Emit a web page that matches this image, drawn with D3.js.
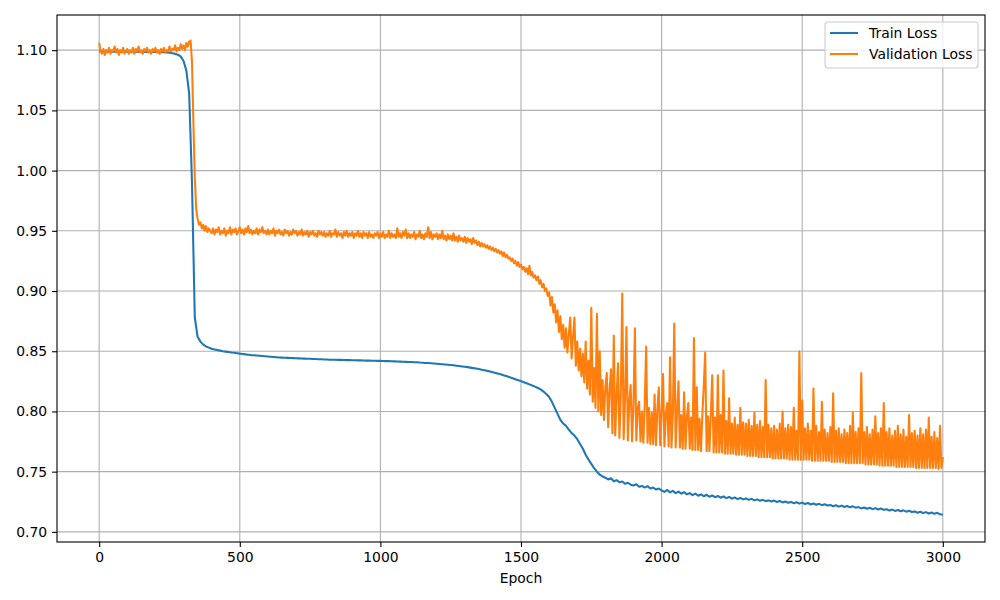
<!DOCTYPE html>
<html>
<head>
<meta charset="utf-8">
<script src="https://cdn.jsdelivr.net/npm/d3@7"></script>
<style>
  body { margin: 0; background: #fff; }
  text { font-family: "DejaVu Sans", sans-serif; }
</style>
</head>
<body>
<svg width="1000" height="600"></svg>
<script>
// train sampled every 10 epochs, validation every 5
const trainEpochs = d3.range(0, 3001, 10);
const valEpochs = d3.range(0, 3001, 5);

const trainLoss = [
  1.099, 1.099, 1.0988, 1.099, 1.0987, 1.0989, 1.0988, 1.099, 1.0987, 1.0988,
  1.0988, 1.0987, 1.0988, 1.0986, 1.0987, 1.0988, 1.0986, 1.0987, 1.0986, 1.0985,
  1.0985, 1.0984, 1.0983, 1.0982, 1.098, 1.0978, 1.0975, 1.097, 1.0962, 1.0948,
  1.091, 1.083, 1.064, 0.99, 0.878, 0.862, 0.858, 0.8555, 0.854, 0.853,
  0.852, 0.8515, 0.851, 0.8505, 0.85, 0.8497, 0.8494, 0.849, 0.8487, 0.8484,
  0.848, 0.8477, 0.8474, 0.8471, 0.8468, 0.8466, 0.8464, 0.8462, 0.846, 0.8458,
  0.8456, 0.8454, 0.8452, 0.845, 0.8448, 0.8447, 0.8446, 0.8445, 0.8444, 0.8443,
  0.8442, 0.8441, 0.844, 0.8439, 0.8438, 0.8437, 0.8436, 0.8435, 0.8434, 0.8433,
  0.8432, 0.8431, 0.843, 0.843, 0.8429, 0.8428, 0.8428, 0.8427, 0.8426, 0.8426,
  0.8425, 0.8425, 0.8424, 0.8424, 0.8423, 0.8422, 0.8422, 0.8421, 0.8421, 0.842,
  0.842, 0.8419, 0.8418, 0.8418, 0.8417, 0.8416, 0.8415, 0.8414, 0.8413, 0.8412,
  0.8411, 0.841, 0.8409, 0.8408, 0.8406, 0.8405, 0.8403, 0.8402, 0.84, 0.8398,
  0.8396, 0.8394, 0.8392, 0.839, 0.8388, 0.8386, 0.8383, 0.838, 0.8377, 0.8374,
  0.8371, 0.8368, 0.8364, 0.836, 0.8356, 0.8352, 0.8347, 0.8342, 0.8337, 0.8331,
  0.8325, 0.8319, 0.8313, 0.8306, 0.8299, 0.8292, 0.8284, 0.8276, 0.8268, 0.826,
  0.8252, 0.8243, 0.8234, 0.8225, 0.8216, 0.8206, 0.8195, 0.8183, 0.8165, 0.8145,
  0.812, 0.808, 0.803, 0.798, 0.793, 0.79, 0.788, 0.785, 0.782, 0.78,
  0.777, 0.773, 0.769, 0.764, 0.76, 0.7565, 0.753, 0.75, 0.7475, 0.746,
  0.745, 0.7435, 0.7445, 0.742, 0.743, 0.7412, 0.7418, 0.74, 0.7408, 0.7392,
  0.7385, 0.7395, 0.7375, 0.7382, 0.7368, 0.738, 0.736, 0.7368, 0.7352, 0.736,
  0.7345, 0.7332, 0.7348, 0.7328, 0.734, 0.7322, 0.7335, 0.7318, 0.733, 0.7312,
  0.7322, 0.7305, 0.7318, 0.73, 0.7312, 0.7296, 0.7308, 0.7292, 0.7302, 0.7288,
  0.7298, 0.7284, 0.7294, 0.728, 0.729, 0.7276, 0.7286, 0.7272, 0.7282, 0.727,
  0.7278, 0.7266, 0.7274, 0.7262, 0.727, 0.7258, 0.7266, 0.7255, 0.7262, 0.7252,
  0.726, 0.7248, 0.7256, 0.7245, 0.7252, 0.7242, 0.7249, 0.7238, 0.7246, 0.7235,
  0.7243, 0.7232, 0.724, 0.7228, 0.7236, 0.7225, 0.7233, 0.7222, 0.723, 0.7219,
  0.7224, 0.7213, 0.7221, 0.721, 0.7218, 0.7207, 0.7215, 0.7204, 0.7212, 0.7201,
  0.7206, 0.7195, 0.7203, 0.7192, 0.72, 0.7189, 0.7197, 0.7186, 0.7194, 0.7183,
  0.7188, 0.7177, 0.7185, 0.7174, 0.7182, 0.7171, 0.7179, 0.7168, 0.7176, 0.7165,
  0.717, 0.7159, 0.7167, 0.7156, 0.7164, 0.7153, 0.7161, 0.715, 0.7158, 0.7146,
  0.7142
];

const valLoss = [
  // 0-95
  1.106, 1.099, 1.097, 1.101, 1.096, 1.100, 1.098, 1.102, 1.097, 1.100, 1.099, 1.103, 1.098, 1.101, 1.096, 1.100, 1.098, 1.102, 1.097, 1.099,
  // 100-195
  1.101, 1.097, 1.100, 1.098, 1.102, 1.097, 1.101, 1.099, 1.103, 1.098, 1.100, 1.097, 1.101, 1.099, 1.102, 1.098, 1.100, 1.097, 1.101, 1.099,
  // 200-295
  1.102, 1.098, 1.100, 1.097, 1.101, 1.099, 1.102, 1.098, 1.100, 1.099, 1.103, 1.099, 1.101, 1.100, 1.104, 1.099, 1.102, 1.100, 1.105, 1.101,
  // 300-395
  1.104, 1.100, 1.106, 1.103, 1.107, 1.108, 1.090, 1.040, 0.995, 0.968, 0.960, 0.955, 0.957, 0.952, 0.955, 0.950, 0.954, 0.949, 0.952, 0.950,
  // 400-495
  0.948, 0.952, 0.947, 0.951, 0.949, 0.953, 0.947, 0.950, 0.948, 0.952, 0.946, 0.950, 0.948, 0.953, 0.947, 0.951, 0.949, 0.952, 0.947, 0.950,
  // 500-595
  0.953, 0.948, 0.951, 0.947, 0.952, 0.949, 0.954, 0.948, 0.951, 0.947, 0.950, 0.948, 0.952, 0.947, 0.951, 0.949, 0.953, 0.948, 0.950, 0.947,
  // 600-695
  0.951, 0.947, 0.950, 0.948, 0.952, 0.946, 0.950, 0.948, 0.951, 0.947, 0.949, 0.946, 0.951, 0.948, 0.950, 0.946, 0.949, 0.947, 0.951, 0.948,
  // 700-795
  0.950, 0.946, 0.949, 0.947, 0.951, 0.946, 0.949, 0.947, 0.950, 0.945, 0.949, 0.947, 0.950, 0.946, 0.948, 0.945, 0.950, 0.947, 0.949, 0.946,
  // 800-895
  0.949, 0.945, 0.948, 0.946, 0.950, 0.945, 0.948, 0.947, 0.951, 0.945, 0.949, 0.946, 0.948, 0.944, 0.949, 0.946, 0.950, 0.945, 0.948, 0.946,
  // 900-995
  0.949, 0.944, 0.948, 0.946, 0.950, 0.945, 0.948, 0.944, 0.949, 0.946, 0.948, 0.944, 0.949, 0.945, 0.947, 0.944, 0.948, 0.946, 0.949, 0.944,
  // 1000-1095
  0.948, 0.945, 0.949, 0.944, 0.947, 0.945, 0.950, 0.944, 0.948, 0.945, 0.947, 0.944, 0.952, 0.945, 0.948, 0.944, 0.949, 0.946, 0.951, 0.944,
  // 1100-1195
  0.948, 0.944, 0.947, 0.945, 0.949, 0.943, 0.947, 0.945, 0.950, 0.944, 0.947, 0.943, 0.948, 0.945, 0.953, 0.944, 0.949, 0.943, 0.947, 0.945,
  // 1200-1295
  0.948, 0.943, 0.947, 0.944, 0.950, 0.943, 0.946, 0.942, 0.947, 0.943, 0.946, 0.942, 0.948, 0.942, 0.945, 0.941, 0.946, 0.942, 0.944, 0.941,
  // 1300-1395
  0.945, 0.940, 0.944, 0.941, 0.943, 0.939, 0.944, 0.940, 0.942, 0.938, 0.941, 0.937, 0.940, 0.937, 0.939, 0.936, 0.938, 0.935, 0.937, 0.934,
  // 1400-1495
  0.936, 0.933, 0.935, 0.932, 0.934, 0.931, 0.933, 0.929, 0.932, 0.928, 0.930, 0.927, 0.928, 0.925, 0.927, 0.923, 0.925, 0.921, 0.924, 0.920,
  // 1500-1595
  0.922, 0.918, 0.920, 0.916, 0.919, 0.914, 0.921, 0.913, 0.916, 0.911, 0.913, 0.909, 0.912, 0.906, 0.909, 0.903, 0.906, 0.900, 0.902, 0.896,
  // 1600-1695
  0.899, 0.888, 0.895, 0.882, 0.889, 0.874, 0.884, 0.866, 0.879, 0.860, 0.872, 0.853, 0.869, 0.849, 0.864, 0.878, 0.844, 0.862, 0.878, 0.838,
  // 1700-1795
  0.858, 0.834, 0.852, 0.829, 0.848, 0.824, 0.858, 0.819, 0.842, 0.814, 0.886, 0.808, 0.836, 0.803, 0.881, 0.800, 0.850, 0.797, 0.826, 0.793,
  // 1800-1895
  0.820, 0.832, 0.787, 0.818, 0.835, 0.782, 0.863, 0.780, 0.812, 0.840, 0.778, 0.815, 0.898, 0.777, 0.810, 0.870, 0.776, 0.808, 0.822, 0.775,
  // 1900-1995
  0.805, 0.869, 0.776, 0.802, 0.808, 0.775, 0.800, 0.774, 0.806, 0.854, 0.774, 0.803, 0.773, 0.799, 0.773, 0.814, 0.772, 0.802, 0.820, 0.772,
  // 2000-2095
  0.800, 0.831, 0.771, 0.798, 0.807, 0.771, 0.845, 0.770, 0.798, 0.873, 0.770, 0.800, 0.825, 0.770, 0.797, 0.769, 0.816, 0.769, 0.796, 0.807,
  // 2100-2195
  0.769, 0.795, 0.768, 0.861, 0.768, 0.820, 0.768, 0.794, 0.767, 0.798, 0.821, 0.849, 0.767, 0.796, 0.767, 0.797, 0.830, 0.766, 0.795, 0.766,
  // 2200-2295
  0.830, 0.766, 0.797, 0.766, 0.834, 0.765, 0.792, 0.765, 0.811, 0.765, 0.790, 0.765, 0.795, 0.764, 0.789, 0.764, 0.803, 0.764, 0.791, 0.764,
  // 2300-2395
  0.790, 0.763, 0.793, 0.763, 0.788, 0.763, 0.799, 0.763, 0.789, 0.762, 0.792, 0.762, 0.787, 0.762, 0.826, 0.762, 0.789, 0.762, 0.786, 0.761,
  // 2400-2495
  0.788, 0.761, 0.785, 0.761, 0.790, 0.761, 0.800, 0.761, 0.786, 0.761, 0.789, 0.760, 0.787, 0.760, 0.803, 0.760, 0.784, 0.760, 0.850, 0.760,
  // 2500-2595
  0.809, 0.760, 0.786, 0.760, 0.790, 0.760, 0.784, 0.759, 0.819, 0.759, 0.788, 0.759, 0.783, 0.759, 0.808, 0.759, 0.785, 0.759, 0.782, 0.759,
  // 2600-2695
  0.787, 0.758, 0.815, 0.758, 0.784, 0.758, 0.786, 0.758, 0.781, 0.758, 0.785, 0.757, 0.782, 0.757, 0.788, 0.757, 0.799, 0.757, 0.783, 0.757,
  // 2700-2795
  0.786, 0.757, 0.832, 0.757, 0.783, 0.756, 0.787, 0.756, 0.781, 0.756, 0.785, 0.756, 0.796, 0.756, 0.782, 0.755, 0.786, 0.755, 0.807, 0.755,
  // 2800-2895
  0.783, 0.755, 0.786, 0.755, 0.780, 0.755, 0.784, 0.754, 0.788, 0.754, 0.781, 0.754, 0.785, 0.754, 0.779, 0.754, 0.797, 0.754, 0.782, 0.754,
  // 2900-2995
  0.784, 0.753, 0.780, 0.753, 0.786, 0.753, 0.781, 0.753, 0.785, 0.753, 0.795, 0.753, 0.779, 0.753, 0.783, 0.753, 0.778, 0.752, 0.788, 0.753,
  // 3000
  0.762
];

const xTicks = [0, 500, 1000, 1500, 2000, 2500, 3000];
const yTicks = [0.70, 0.75, 0.80, 0.85, 0.90, 0.95, 1.00, 1.05, 1.10];
const seriesNames = ['Train Loss', 'Validation Loss'];
const colors = ['#1f77b4', '#ff7f0e'];

const svg = d3.select('svg');
const width = +svg.attr('width');
const height = +svg.attr('height');
const margin = { top: 15, right: 15, bottom: 58, left: 57 };
const w = width - margin.left - margin.right;
const h = height - margin.top - margin.bottom;

const g = svg.append('g').attr('transform', `translate(${margin.left},${margin.top})`);

const x = d3.scaleLinear().domain([-150, 3150]).range([0, w]);
const y = d3.scaleLinear().domain([0.6916, 1.1292]).range([h, 0]);

// grid (0.8pt)
g.append('g')
  .selectAll('line')
  .data(xTicks)
  .join('line')
  .attr('x1', (d) => x(d)).attr('x2', (d) => x(d))
  .attr('y1', 0).attr('y2', h)
  .attr('stroke', '#b0b0b0').attr('stroke-width', 1.1);
g.append('g')
  .selectAll('line')
  .data(yTicks)
  .join('line')
  .attr('y1', (d) => y(d)).attr('y2', (d) => y(d))
  .attr('x1', 0).attr('x2', w)
  .attr('stroke', '#b0b0b0').attr('stroke-width', 1.1);

// lines (1.5pt)
const line = (xs, vals) => d3.line()
  .x((d, i) => x(xs[i]))
  .y((d) => y(d))(vals);

g.append('path')
  .attr('d', line(trainEpochs, trainLoss))
  .attr('fill', 'none')
  .attr('stroke', colors[0])
  .attr('stroke-width', 2.08)
  .attr('stroke-linejoin', 'round');
g.append('path')
  .attr('d', line(valEpochs, valLoss))
  .attr('fill', 'none')
  .attr('stroke', colors[1])
  .attr('stroke-width', 2.08)
  .attr('stroke-linejoin', 'round');

// axes
const xAxis = g.append('g')
  .attr('transform', `translate(0,${h})`)
  .call(d3.axisBottom(x).tickValues(xTicks).tickFormat(d3.format('d')).tickSize(4.9).tickPadding(4.9));
const yAxis = g.append('g')
  .call(d3.axisLeft(y).tickValues(yTicks).tickFormat(d3.format('.2f')).tickSize(4.9).tickPadding(4.9));
[xAxis, yAxis].forEach((a) => {
  a.select('.domain').remove();
  a.selectAll('.tick line').attr('stroke', '#000').attr('stroke-width', 1.1);
  a.selectAll('.tick text').attr('font-size', '13.9px').attr('fill', '#000')
    .attr('font-family', '"DejaVu Sans", sans-serif');
});

// frame
g.append('rect')
  .attr('width', w).attr('height', h)
  .attr('fill', 'none').attr('stroke', '#000').attr('stroke-width', 1.1);

// x label
g.append('text')
  .attr('x', w / 2)
  .attr('y', h + 41)
  .attr('text-anchor', 'middle')
  .attr('font-size', '13.9px')
  .text('Epoch');

// legend
const lg = g.append('g').attr('transform', `translate(${w - 160},7)`);
lg.append('rect')
  .attr('width', 153).attr('height', 46).attr('rx', 3)
  .attr('fill', '#fff').attr('fill-opacity', 0.8)
  .attr('stroke', '#cccccc').attr('stroke-width', 1.1);
seriesNames.forEach((name, i) => {
  const yy = 11 + i * 21;
  lg.append('line')
    .attr('x1', 5).attr('x2', 33).attr('y1', yy).attr('y2', yy)
    .attr('stroke', colors[i]).attr('stroke-width', 2.08);
  lg.append('text')
    .attr('x', 44).attr('y', yy + 5)
    .attr('font-size', '13.9px')
    .text(name);
});
</script>
</body>
</html>
